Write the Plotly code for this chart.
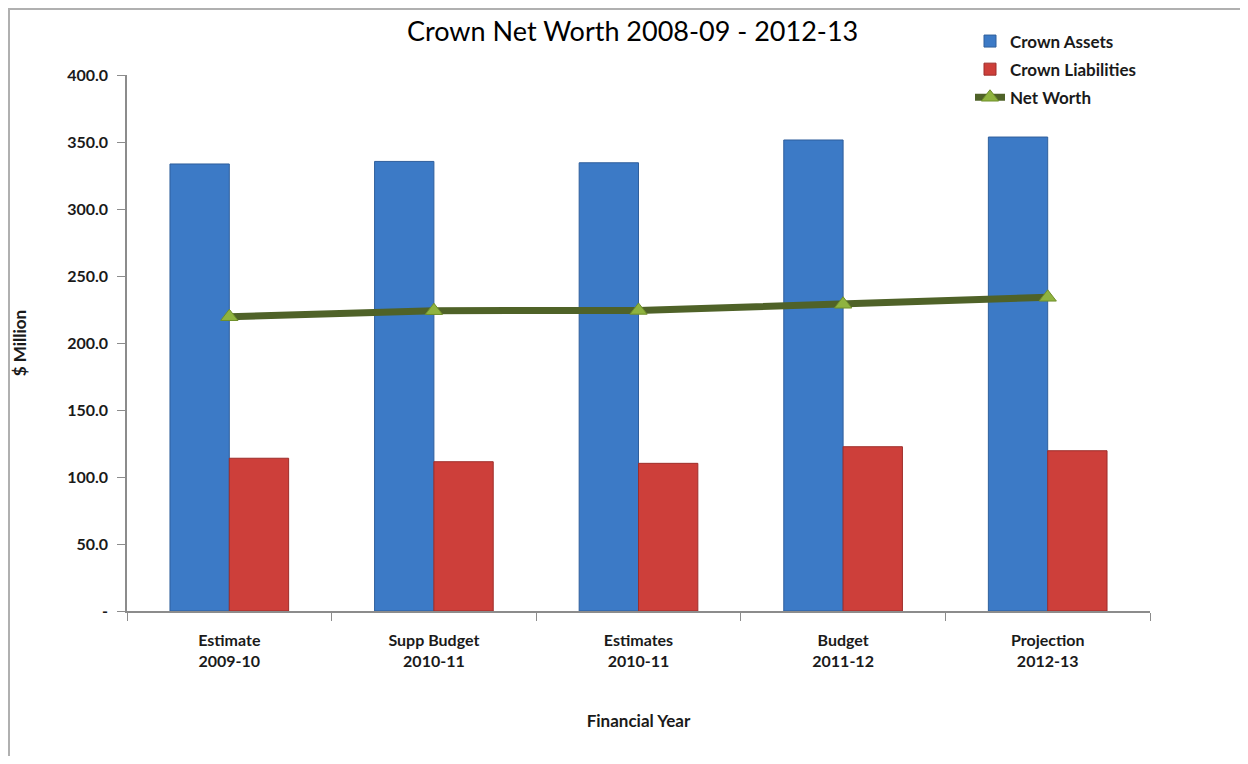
import plotly.graph_objects as go

categories = ["Estimate<br>2009-10", "Supp Budget<br>2010-11", "Estimates<br>2010-11",
              "Budget<br>2011-12", "Projection<br>2012-13"]
crown_assets = [333.6, 335.5, 334.5, 351.5, 353.7]
crown_liabilities = [114.0, 111.4, 110.2, 122.6, 119.6]
net_worth = [219.6, 224.1, 224.3, 228.9, 234.1]
y_tickvals = [0, 50, 100, 150, 200, 250, 300, 350, 400]
y_ticktext = ["-", "50.0", "100.0", "150.0", "200.0", "250.0", "300.0", "350.0", "400.0"]

FONT = "Lato"
TXT = "#1a1a1a"

W, H = 1232, 748
L, R, T, B = 119, 90, 67, 145
PW, PH = W - L - R, H - T - B

fig = go.Figure()
fig.add_trace(go.Bar(
    x=categories, y=crown_assets, name="Crown Assets", legendgroup="a",
    marker=dict(color="#3c7ac6", line=dict(color="#2f5f9c", width=1)),
))
fig.add_trace(go.Bar(
    x=categories, y=crown_liabilities, name="Crown Liabilities", legendgroup="b",
    marker=dict(color="#cd3f3a", line=dict(color="#9e2d2a", width=1)),
))
fig.add_trace(go.Scatter(
    x=categories, y=net_worth, name="Net Worth", mode="lines+markers", legendgroup="c",
    line=dict(color="#4f6228", width=7),
    marker=dict(symbol="triangle-up", size=15, color="#8fb33f",
                line=dict(color="#6f8f2a", width=1)),
))

fig.update_layout(
    width=W, height=H,
    margin=dict(l=L, r=R, t=T, b=B),
    paper_bgcolor="white", plot_bgcolor="white",
    barmode="group", bargap=0.42, bargroupgap=0,
    title=dict(text="Crown Net Worth 2008-09 - 2012-13", x=0.507, xanchor="center",
               y=0.969, yanchor="middle",
               font=dict(family=FONT, size=27, color="black")),
    showlegend=True,
    legend=dict(x=(962 - L) / PW, y=1 + (75 - 23.5) / PH, xanchor="left", yanchor="top",
                font=dict(family=FONT, size=17, color=TXT, weight="bold"),
                bgcolor="rgba(0,0,0,0)", traceorder="grouped", tracegroupgap=3,
                itemwidth=30),
    font=dict(family=FONT, color=TXT),
)
fig.update_xaxes(
    type="category", showline=True, linecolor="#8c8c8c", linewidth=1.5,
    ticks="outside", tickson="boundaries", ticklen=8, tickcolor="#8c8c8c",
    showgrid=False, ticklabelstandoff=14,
    tickfont=dict(family=FONT, size=16, color=TXT, weight="bold"),
    title=dict(text="Financial Year", standoff=46,
               font=dict(family=FONT, size=17, color=TXT, weight="bold")),
)
fig.update_yaxes(
    range=[0, 400], tickvals=y_tickvals, ticktext=y_ticktext,
    showline=True, linecolor="#8c8c8c", linewidth=1.5,
    ticks="outside", ticklen=8, tickcolor="#8c8c8c", showgrid=False, zeroline=False,
    ticklabelstandoff=6,
    tickfont=dict(family=FONT, size=16, color=TXT, weight="bold"),
    title=dict(text="$ Million", standoff=36,
               font=dict(family=FONT, size=17, color=TXT, weight="bold")),
)
fig.add_shape(type="rect", xref="paper", yref="paper",
              x0=(1 - L) / PW, x1=(W + 50 - L) / PW,
              y0=(603 - 800) / PH, y1=(603 - 1) / PH,
              line=dict(color="#b0b0b0", width=2), fillcolor="rgba(0,0,0,0)", layer="below")

fig.write_html("out.html")
